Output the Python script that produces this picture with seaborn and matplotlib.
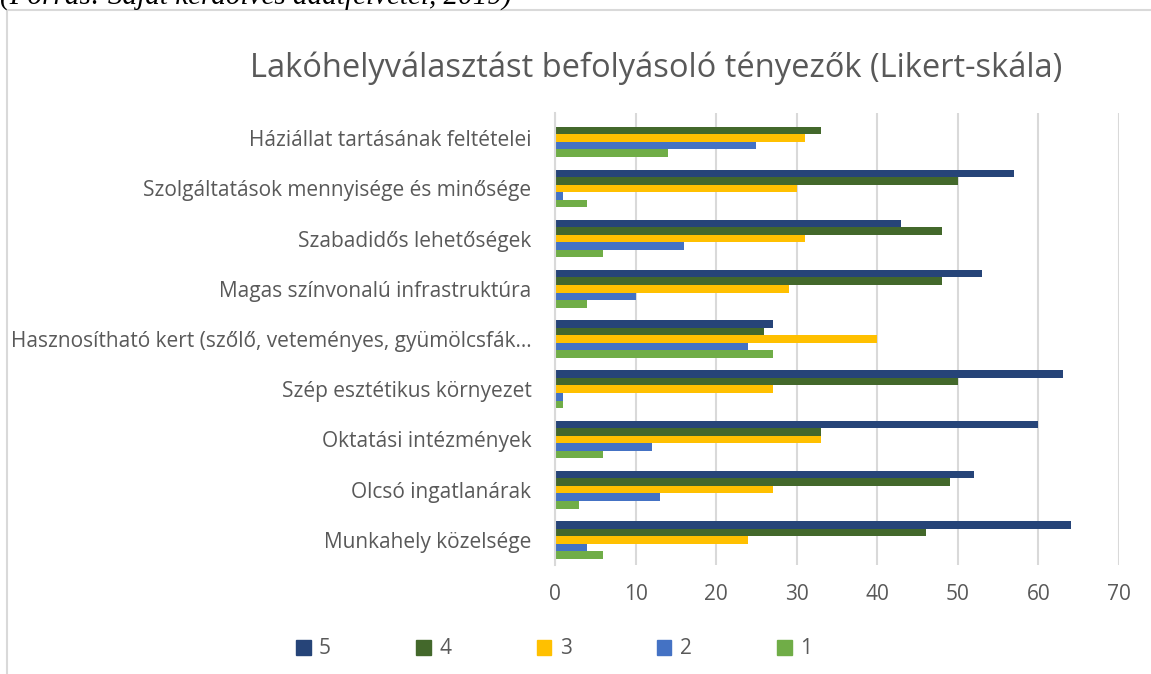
import numpy as np
import pandas as pd
import matplotlib
matplotlib.use("Agg")
import matplotlib.pyplot as plt
import seaborn as sns
from matplotlib.patches import Rectangle, Patch

# data
categories = [
    "Háziállat tartásának feltételei",
    "Szolgáltatások mennyisége és minősége",
    "Szabadidős lehetőségek",
    "Magas színvonalú infrastruktúra",
    "Hasznosítható kert (szőlő, veteményes, gyümölcsfák…",
    "Szép esztétikus környezet",
    "Oktatási intézmények",
    "Olcsó ingatlanárak",
    "Munkahely közelsége",
]
series = ["5", "4", "3", "2", "1"]
val_5 = [0, 57, 43, 53, 27, 63, 60, 52, 64]
val_4 = [33, 50, 48, 48, 26, 50, 33, 49, 46]
val_3 = [31, 30, 31, 29, 40, 27, 33, 27, 24]
val_2 = [25, 1, 16, 10, 24, 1, 12, 13, 4]
val_1 = [14, 4, 6, 4, 27, 1, 6, 3, 6]
colors = ["#264478", "#43682B", "#FFC000", "#4472C4", "#70AD47"]
x_ticks = [0, 10, 20, 30, 40, 50, 60, 70]

df = pd.DataFrame({"Tényező": categories, "5": val_5, "4": val_4,
                   "3": val_3, "2": val_2, "1": val_1})
long = df.melt(id_vars="Tényező", var_name="Érték", value_name="Darab")

sns.set_theme(style="white")
plt.rcParams["font.family"] = ["Open Sans", "DejaVu Sans"]

txt = "#595959"
grid = "#D9D9D9"

fig = plt.figure(figsize=(11.51, 6.74), dpi=100)
ax = fig.add_axes([555 / 1151, 1 - 565 / 674, (1119 - 555) / 1151, 452 / 674])

sns.barplot(data=long, y="Tényező", x="Darab", hue="Érték",
            order=categories, hue_order=series, palette=colors,
            orient="h", width=0.75, saturation=1, linewidth=0,
            ax=ax, legend=False)

ax.set_xlim(0, 70)
ax.set_xticks(x_ticks)
ax.xaxis.grid(True, color=grid, linewidth=1.5)
ax.set_axisbelow(True)
for s in ["top", "right", "bottom"]:
    ax.spines[s].set_visible(False)
ax.spines["left"].set_color(grid)
ax.spines["left"].set_linewidth(1.5)
ax.tick_params(axis="both", length=0, colors=txt, labelsize=15)
ax.tick_params(axis="x", pad=14)
ax.tick_params(axis="y", pad=17)
ax.set_xlabel("")
ax.set_ylabel("")

# chart frame and the cut-off source line of the document
fig.patches.append(Rectangle((7 / 1151, -0.1), 1.2, 1.1 - 10 / 674,
                             transform=fig.transFigure, fill=False,
                             edgecolor=grid, linewidth=1.5))
fig.text(0.0, 1 - 4 / 674, "(Forrás: Saját kérdőíves adatfelvétel, 2019)",
         family="Liberation Serif", style="italic", fontsize=21,
         ha="left", va="baseline", color="black")

fig.text(656 / 1151, 1 - 68 / 674,
         "Lakóhelyválasztást befolyásoló tényezők (Likert-skála)",
         ha="center", va="center", fontsize=23.5, color=txt)

handles = [Patch(facecolor=c, edgecolor=c) for c in colors]
fig.legend(handles, series, loc="center", ncol=5,
           bbox_to_anchor=(554 / 1151, 1 - 649 / 674), frameon=False,
           fontsize=15, labelcolor=txt, handlelength=0.7, handleheight=0.7,
           handletextpad=0.4, columnspacing=4.1)

fig.savefig("out.png", dpi=100)
